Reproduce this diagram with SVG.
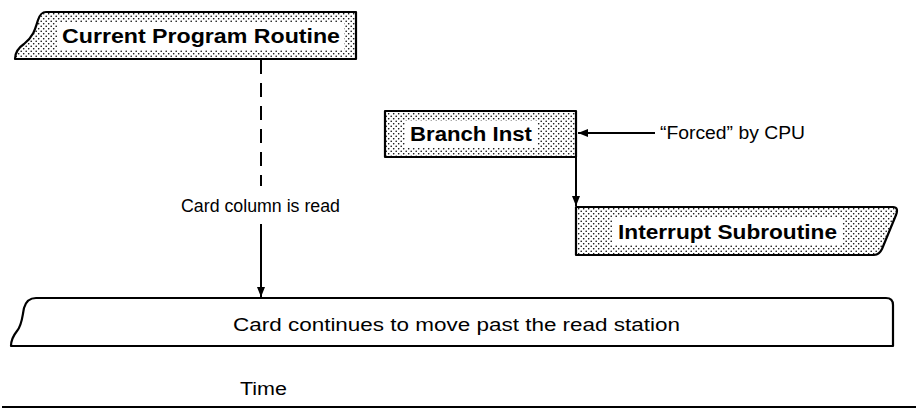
<svg xmlns="http://www.w3.org/2000/svg" width="920" height="415" viewBox="0 0 920 415">
<defs>
<pattern id="dots" width="5" height="5" patternUnits="userSpaceOnUse">
<rect width="5" height="5" fill="#fff"/>
<circle cx="1.2" cy="1.2" r="0.8" fill="#000"/>
<circle cx="3.7" cy="3.7" r="0.8" fill="#000"/>
</pattern>
<marker id="arr" viewBox="0 0 10 10" refX="10" refY="5" markerWidth="10" markerHeight="10" markerUnits="userSpaceOnUse" orient="auto">
<path d="M0,1 L10,5 L0,9 Z" fill="#000"/>
</marker>
<style>
.box{fill:url(#dots);stroke:#000;stroke-width:2.2;stroke-linejoin:round}
.plain{fill:#fff;stroke:#000;stroke-width:2.2;stroke-linejoin:round}
.lbg{fill:#fff}
.bold{font-family:"Liberation Sans",Arial,sans-serif;font-weight:bold;font-size:20px;fill:#000}
.reg{font-family:"Liberation Sans",Arial,sans-serif;font-size:17.5px;fill:#000}
.ln{stroke:#000;stroke-width:2;fill:none}
</style>
</defs>
<rect width="920" height="415" fill="#fff"/>

<g id="current-program-routine">
<path class="box" d="M46,12 L356,12 L356,59 L15,59 C15,52 18,48 24,44 C33,37 35,30 38,20 C40,14 42,12 46,12 Z"/>
<rect class="lbg" x="58" y="23" width="286" height="27"/>
<text class="bold" x="62" y="43" textLength="278" lengthAdjust="spacingAndGlyphs">Current Program Routine</text>
</g>

<g id="branch-inst">
<rect class="box" x="385" y="111" width="191" height="46"/>
<rect class="lbg" x="405" y="121" width="132" height="27"/>
<text class="bold" x="410" y="141" textLength="122" lengthAdjust="spacingAndGlyphs">Branch Inst</text>
</g>

<g id="interrupt-subroutine">
<path class="box" d="M576,207 L893,207 C897,207 898,210 896,215 L882,249 C880,253 878,255 874,255 L576,255 Z"/>
<rect class="lbg" x="613" y="218" width="229" height="27"/>
<text class="bold" x="618" y="239" textLength="219" lengthAdjust="spacingAndGlyphs">Interrupt Subroutine</text>
</g>

<g id="card">
<path class="plain" d="M36,298 L886,298 C891,298 893,300 893,305 L893,346 L11,346 C11,340 13,336 17,331 C22,325 22,318 24,308 C26,301 30,298 36,298 Z"/>
<text class="reg" x="233" y="331" textLength="447" lengthAdjust="spacingAndGlyphs">Card continues to move past the read station</text>
</g>

<g id="labels">
<text class="reg" x="181" y="212" textLength="159" lengthAdjust="spacingAndGlyphs">Card column is read</text>
<text class="reg" x="660" y="139" textLength="145" lengthAdjust="spacingAndGlyphs">“Forced” by CPU</text>
<text class="reg" x="240" y="395" textLength="47" lengthAdjust="spacingAndGlyphs">Time</text>
</g>

<g id="connectors">
<line class="ln" x1="261" y1="60" x2="261" y2="186" stroke-dasharray="14,9"/>
<line class="ln" x1="261" y1="224" x2="261" y2="297" marker-end="url(#arr)"/>
<line class="ln" x1="655" y1="133" x2="578" y2="133" marker-end="url(#arr)"/>
<line class="ln" x1="576" y1="157" x2="576" y2="206" marker-end="url(#arr)"/>
<line class="ln" x1="2" y1="407" x2="916" y2="407"/>
</g>
</svg>
